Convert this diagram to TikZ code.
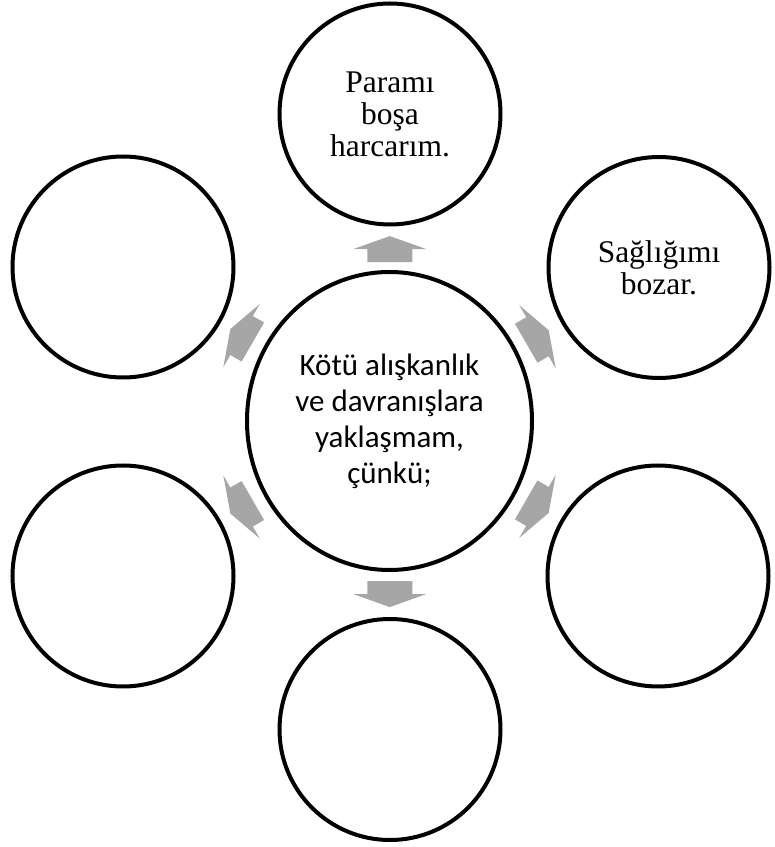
\documentclass[tikz,border=0pt]{standalone}
\usepackage{fontspec}
\setmainfont{Liberation Serif}
\newfontfamily\calibfont{Carlito}
\usetikzlibrary{shapes.geometric,calc}
\definecolor{arrowgray}{RGB}{166,166,166}
\begin{document}
\begin{tikzpicture}[x=1pt,y=1pt,
  outer/.style={circle,draw=black,line width=4pt,minimum size=221pt,inner sep=0pt,align=center,font=\fontsize{31.5}{32}\selectfont},
  hub/.style={ellipse,draw=black,line width=4pt,minimum width=285pt,minimum height=298pt,inner sep=0pt,align=center,font=\calibfont\fontsize{31}{36}\selectfont},
  blockarr/.pic={\fill[arrowgray] (-13,-22.5) -- (0,-22.5) -- (0,-36.5) -- (13,0) -- (0,36.5) -- (0,22.5) -- (-13,22.5) -- cycle;}]
\useasboundingbox (0,0) rectangle (775,847);
\node[hub] (hub) at (389.5,426) {Kötü alışkanlık\\ve davranışlara\\yaklaşmam,\\çünkü;};
\node[outer] (top) at (390,733) {Paramı\\boşa\\harcarım.};
\node[outer] (tr) at (659,579.5) {Sağlığımı\\bozar.};
\node[outer] (br) at (658,271) {};
\node[outer] (bot) at (390,117.5) {};
\node[outer] (bl) at (123,271) {};
\node[outer] (tl) at (123,580) {};
\pic[rotate=90] at ($(hub)!0.56!(top)$) {blockarr};
\pic[rotate=270] at ($(hub)!0.561!(bot)$) {blockarr};
\pic[rotate=30] at ($(hub)!0.549!(tr)$) {blockarr};
\pic[rotate=-30] at ($(hub)!0.551!(br)$) {blockarr};
\pic[rotate=150] at ($(hub)!0.555!(tl)$) {blockarr};
\pic[rotate=210] at ($(hub)!0.555!(bl)$) {blockarr};
\end{tikzpicture}
\end{document}
